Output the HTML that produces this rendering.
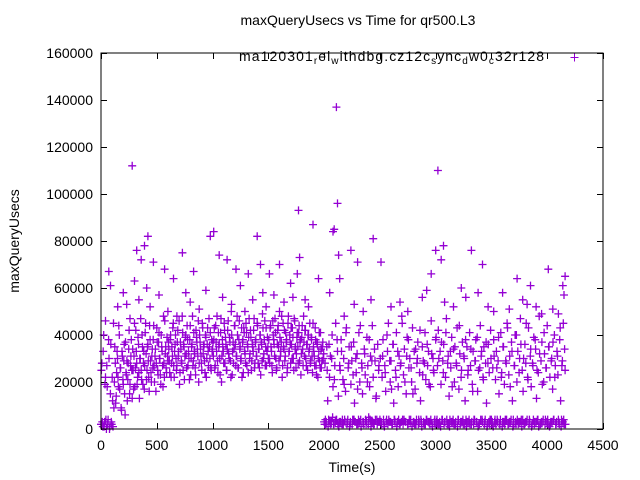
<!DOCTYPE html>
<html><head><meta charset="utf-8"><style>
body{margin:0;background:#fff;}
svg{display:block;font-family:"Liberation Sans",sans-serif;}
</style></head><body>
<svg id="chart" width="640" height="480" viewBox="0 0 640 480" xmlns="http://www.w3.org/2000/svg">
<rect width="640" height="480" fill="#fff"/>
<text x="358" y="25" font-size="14" text-anchor="middle">maxQueryUsecs vs Time for qr500.L3</text>
<text transform="translate(19,241) rotate(-90)" font-size="14" text-anchor="middle">maxQueryUsecs</text>
<text x="352" y="472" font-size="14" text-anchor="middle">Time(s)</text>
<g id="ticks"></g>
<g id="marks"></g>
<rect x="101" y="53" width="502" height="376" fill="none" stroke="#000" stroke-width="1"/>
<g>
<text x="239" y="61" font-size="14" textLength="305" lengthAdjust="spacing">ma120301<tspan font-size="10" baseline-shift="-3">r</tspan>el<tspan font-size="10" baseline-shift="-3">w</tspan>ithdbg.cz12c<tspan font-size="10" baseline-shift="-3">s</tspan>ync<tspan font-size="10" baseline-shift="-3">d</tspan>w0<tspan font-size="10" baseline-shift="-3">c</tspan>32r128</text>
<path d="M570.5 57.5h8M574.5 53.5v8" stroke="#9400d3" stroke-width="1"/>
</g>
</svg>
<script>
const xTicks=[0,500,1000,1500,2000,2500,3000,3500,4000,4500];
const yTicks=[0,20000,40000,60000,80000,100000,120000,140000,160000];
const sampleInterval=8;
const valuesK=[2,28,1,40,3,22,0,18,4,30,1,36,2,12,45,
20,28,14,33,22,44,17,26,8,31,19,36,6,24,29,21,34,15,27,38,13,25,31,
18,42,28,22,36,13,30,25,40,19,33,27,45,21,35,29,16,38,24,31,26,44,20,34,28,37,23,41,30,19,35,27,48,22,32,26,39,29,
34,24,40,28,31,45,22,36,30,27,42,33,19,37,29,48,25,35,31,40,26,38,33,21,44,30,36,27,41,32,23,39,34,46,28,37,31,25,43,35,29,40,22,36,33,47,30,26,38,34,
31,43,27,37,48,24,35,30,41,20,38,33,45,28,36,25,42,32,39,29,50,23,37,34,44,27,31,40,26,46,35,30,22,38,43,33,28,41,36,24,47,32,39,29,35,42,26,37,31,45,28,34,40,23,36,49,30,38,27,43,33,35,
38,28,44,33,24,40,36,47,30,26,42,35,50,31,37,22,45,34,29,41,38,26,48,33,36,43,30,39,25,46,35,32,41,28,44,37,23,39,34,48,31,42,27,36,40,33,45,29,38,24,35,31,43,27,37,22,33,29,41,26,35,30,
3,28,2,35,12,4,22,31,3,40,18,2,27,45,4,33,14,3,25,38,2,21,30,4,16,43,3,26,35,2,19,29,4,37,11,3,24,32,2,41,20,4,28,15,3,34,23,2,39,27,5,18,31,3,44,22,2,29,13,4,36,25,3,
30,3,22,38,2,27,16,4,33,45,3,20,29,2,36,11,4,25,41,3,18,31,2,28,48,4,23,34,3,15,39,2,26,30,4,20,43,3,33,17,2,28,37,4,24,12,3,35,29,2,41,21,4,27,33,3,18,46,2,30,24,4,38,
3,27,42,2,33,19,4,29,36,3,22,47,2,31,14,4,26,39,3,34,20,2,28,43,4,17,32,3,25,37,2,30,12,4,35,23,3,41,27,2,19,33,4,29,38,3,16,25,2,44,31,4,22,35,3,28,11,2,36,24,4,30,
2,26,38,3,21,33,4,29,15,2,41,24,3,35,19,4,28,45,2,23,31,3,37,12,4,27,40,2,20,33,3,30,47,4,25,16,2,36,28,3,22,43,4,31,18,2,27,39,3,34,13,4,24,48,2,29,37,3,20,32,4,26,44,2,35,22,3,30,17,4,40,27,2,33,23,3,38,12,4,29,45,2,25];
const valuesK2=[25,3,33,1,19,4,27,2,38,0,15,3,22,1,9,
35,11,24,30,18,40,26,9,33,21,29,15,37,23,12,28,42,19,31,25,34,17,45,
26,33,19,39,24,30,47,21,35,28,17,41,32,25,36,22,44,29,20,34,38,27,31,16,43,25,37,30,23,40,33,18,28,46,35,24,31,37,
29,38,22,35,43,27,33,40,25,37,31,46,24,34,28,41,36,21,39,32,44,27,30,38,23,35,48,29,33,26,42,37,31,20,40,34,28,45,32,36,24,39,30,43,27,35,41,25,33,37,
38,26,44,33,29,41,36,23,47,31,35,28,42,39,25,34,46,30,37,22,40,33,28,44,36,31,48,26,38,34,29,43,37,24,41,32,45,27,35,39,30,42,25,36,33,47,28,38,31,44,34,26,40,37,29,43,32,46,35,27,39,30,
30,43,35,27,46,38,31,41,25,36,44,29,39,33,48,27,35,42,31,37,24,45,33,40,28,36,43,30,47,34,26,39,35,41,29,38,32,44,27,37,42,30,36,25,40,34,28,39,31,45,33,27,38,23,36,30,41,26,34,29,37,32,
2,4,3,25,1,36,3,2,30,5,2,21,3,4,38,2,1,27,3,33,4,2,19,3,41,2,4,28,1,3,35,2,23,4,3,30,2,17,4,3,44,1,26,3,2,32,4,3,20,2,38,4,1,29,3,2,34,4,14,2,3,27,4,
3,2,31,4,1,24,3,40,2,4,29,3,17,2,36,4,3,22,1,33,4,2,27,3,45,2,4,20,3,31,2,38,4,3,26,1,15,3,2,34,4,30,2,3,42,4,1,23,3,28,2,4,36,3,19,2,4,32,1,25,3,2,39,
4,2,30,3,1,37,4,24,2,3,41,4,28,2,1,33,3,18,4,2,35,3,27,1,4,44,2,22,3,4,31,2,38,1,3,25,4,2,34,3,16,2,4,29,3,39,1,2,26,4,33,3,21,2,4,37,1,28,3,2,42,4,
3,1,31,4,2,26,3,39,2,4,22,1,35,3,2,29,4,43,2,3,18,4,33,1,2,27,3,40,4,2,24,3,36,1,4,30,2,3,45,4,21,2,3,34,1,28,4,2,38,3,25,4,1,32,2,3,19,4,41,2,26,3,4,35,1,2,29,3,37,4,22,2,3,31,4,2,43,1,27,3,4,34,2];
const upperTimes=[40,150,230,260,340,410,440,520,600,680,760,800,880,940,1090,1170,1250,1290,1360,1450,1480,1550,1640,1720,1830,1860,2050,2180,2270,2350,2420,2600,2680,2750,2880,2920,3080,3160,3230,3270,3380,3470,3520,3660,3780,3820,3950,4050,4100,4150];
const upperValues=[46000,52000,53000,47000,55000,60000,52000,57000,50000,48000,58000,54000,51000,59000,56000,53000,61000,50000,55000,58000,52000,57000,54000,56000,55000,52000,58000,48000,53000,50000,55000,52000,54000,50000,56000,59000,54000,52000,60000,56000,58000,52000,50000,51000,55000,53000,49000,51000,49000,57000];
const outlierTimes=[70,85,200,280,300,320,360,390,420,470,570,650,730,830,980,1010,1060,1130,1210,1320,1400,1430,1510,1600,1700,1760,1770,1780,1900,1950,2080,2090,2110,2120,2130,2140,2240,2300,2440,2510,2960,3000,3020,3050,3070,3320,3420,3600,3730,3850,3900,4010,4140,4160];
const outlierValues=[67000,61000,58000,112000,63000,76000,72000,78000,82000,71000,68000,64000,75000,67000,82000,84000,74000,72000,68000,66000,82000,70000,66000,70000,62000,66000,93000,73000,87000,64000,84000,85000,137000,96000,74000,64000,76000,71000,81000,71000,66000,76000,110000,72000,78000,76000,70000,58000,64000,61000,52000,68000,61000,65000];

const NS="http://www.w3.org/2000/svg";
const X0=101,X1=603,Y0=429,Y1=53;
function xs(t){return X0+(t-0)/4500*(X1-X0);}
function ys(v){return Y0-(v/160000)*(Y0-Y1);}
const tg=document.getElementById('ticks');
xTicks.forEach(t=>{
  const x=Math.round(xs(t))+0.5;
  const p=document.createElementNS(NS,'path');
  p.setAttribute('d',`M${x} ${Y0}v-6M${x} ${Y1}v6`);
  p.setAttribute('stroke','#000');
  
  
  tg.appendChild(p);
  const tx=document.createElementNS(NS,'text');
  tx.setAttribute('x',xs(t));tx.setAttribute('y',450);
  tx.setAttribute('font-size','14');tx.setAttribute('text-anchor','middle');
  
  
  tx.textContent=t;tg.appendChild(tx);
});
yTicks.forEach(v=>{
  const y=Math.round(ys(v))+0.5;
  const p=document.createElementNS(NS,'path');
  p.setAttribute('d',`M${X0} ${y}h6M${X1} ${y}h-6`);
  p.setAttribute('stroke','#000');
  
  
  tg.appendChild(p);
  const tx=document.createElementNS(NS,'text');
  tx.setAttribute('x',93);tx.setAttribute('y',ys(v)+5);
  tx.setAttribute('font-size','14');tx.setAttribute('text-anchor','end');
  
  
  tx.textContent=v;tg.appendChild(tx);
});
const mg=document.getElementById('marks');
let d='';
function plus(t,v){const x=xs(t),y=ys(v);d+=`M${(x-4).toFixed(1)} ${y.toFixed(1)}h8M${x.toFixed(1)} ${(y-4).toFixed(1)}v8`;}
valuesK.forEach((v,i)=>plus(i*sampleInterval,v*1000));
valuesK2.forEach((v,i)=>plus(i*sampleInterval+sampleInterval/2,v*1000));
upperTimes.forEach((t,i)=>plus(t,upperValues[i]));
outlierTimes.forEach((t,i)=>plus(t,outlierValues[i]));
const path=document.createElementNS(NS,'path');
path.setAttribute('d',d);
path.setAttribute('stroke','#9400d3');
path.setAttribute('stroke-width','1.3');
path.setAttribute('fill','none');


mg.appendChild(path);
</script>
</body></html>
